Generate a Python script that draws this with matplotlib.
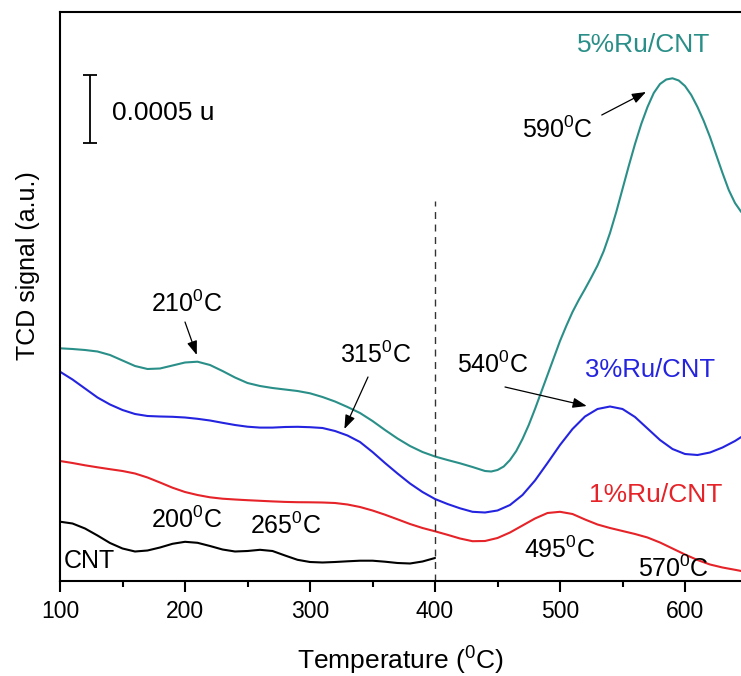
import matplotlib
matplotlib.use('Agg')
import matplotlib.pyplot as plt
from matplotlib.ticker import MultipleLocator

plt.rcParams['font.family'] = ['Liberation Sans', 'DejaVu Sans']
plt.rcParams['mathtext.fontset'] = 'custom'
plt.rcParams['mathtext.rm'] = 'Liberation Sans'
plt.rcParams['mathtext.default'] = 'regular'

# ---- data (signal in arbitrary units) ----
t_5ru = [100, 110, 120, 130, 140, 150, 160, 170, 180, 190, 200, 210, 220, 230, 240,
         250, 260, 270, 280, 290, 300, 310, 320, 330, 340, 350, 360, 370, 380, 390,
         400, 410, 420, 430, 440, 445, 450, 455, 460, 465, 470, 475, 480, 485, 490,
         495, 500, 505, 510, 515, 520, 525, 530, 535, 540, 545, 550, 555, 560, 565,
         570, 575, 580, 585, 590, 595, 600, 605, 610, 615, 620, 625, 630, 635, 640, 645]
s_5ru = [23.27, 23.2, 23.1, 22.95, 22.6, 22.05, 21.5, 21.2, 21.25, 21.55, 21.85, 21.93, 21.6, 21.0, 20.35,
         19.8, 19.5, 19.3, 19.15, 19.0, 18.77, 18.4, 17.95, 17.4, 16.8, 16.0, 15.1, 14.25, 13.5, 12.9,
         12.45, 12.1, 11.77, 11.4, 11.0, 10.95, 11.1, 11.45, 12.1, 13.0, 14.2, 15.6, 17.2, 18.9, 20.6,
         22.3, 24.0, 25.5, 26.9, 28.1, 29.2, 30.35, 31.55, 33.0, 34.8, 36.9, 39.2, 41.5, 43.7, 45.7,
         47.4, 48.8, 49.7, 50.15, 50.27, 50.05, 49.5, 48.6, 47.4, 46.0, 44.4, 42.6, 40.8, 39.1, 37.8, 36.9]

t_3ru = [100, 110, 120, 130, 140, 150, 160, 170, 180, 190, 200, 210, 220, 230, 240,
         250, 260, 270, 280, 290, 300, 310, 320, 330, 340, 350, 360, 370, 380, 390,
         400, 410, 420, 430, 440, 450, 460, 470, 480, 490, 500, 510, 520, 530, 540,
         550, 560, 570, 580, 590, 600, 610, 620, 630, 640, 645]
s_3ru = [20.93, 20.15, 19.25, 18.35, 17.65, 17.1, 16.7, 16.5, 16.45, 16.42, 16.35, 16.22, 16.05, 15.82, 15.6,
         15.43, 15.34, 15.34, 15.4, 15.42, 15.38, 15.3, 15.0, 14.55, 13.9, 12.9, 11.8, 10.75, 9.75, 8.9,
         8.2, 7.7, 7.27, 6.92, 6.85, 7.05, 7.6, 8.6, 10.05, 11.8, 13.6, 15.2, 16.45, 17.2, 17.45,
         17.2, 16.4, 15.25, 14.1, 13.2, 12.7, 12.6, 12.85, 13.35, 14.0, 14.4]

t_1ru = [100, 110, 120, 130, 140, 150, 160, 170, 180, 190, 200, 210, 220, 230, 240,
         250, 260, 270, 280, 290, 300, 310, 320, 330, 340, 350, 360, 370, 380, 390,
         400, 410, 420, 430, 440, 450, 460, 470, 480, 490, 500, 510, 520, 530, 540,
         550, 560, 570, 580, 590, 600, 610, 620, 630, 640, 645]
s_1ru = [12.0, 11.8, 11.57, 11.37, 11.18, 11.0, 10.75, 10.35, 9.85, 9.33, 8.9, 8.6, 8.37, 8.23, 8.15,
         8.08, 8.02, 7.96, 7.91, 7.88, 7.87, 7.85, 7.8, 7.65, 7.4, 7.05, 6.63, 6.17, 5.7, 5.3,
         4.97, 4.62, 4.25, 3.98, 4.0, 4.3, 4.85, 5.55, 6.25, 6.8, 6.92, 6.7, 6.15, 5.65, 5.3,
         5.0, 4.7, 4.35, 3.85, 3.25, 2.65, 2.1, 1.65, 1.35, 1.12, 1.0]

t_cnt = [100, 110, 120, 130, 140, 150, 160, 170, 180, 190, 200, 210, 220, 230, 240,
         250, 260, 270, 280, 290, 300, 310, 320, 330, 340, 350, 360, 370, 380, 390, 400]
s_cnt = [5.93, 5.75, 5.25, 4.55, 3.8, 3.25, 2.95, 3.05, 3.35, 3.72, 3.92, 3.82, 3.5, 3.15, 2.95,
         3.0, 3.12, 3.0, 2.55, 2.12, 1.9, 1.85, 1.9, 1.97, 2.03, 2.03, 1.93, 1.8, 1.75, 1.95, 2.3]

scale_bar = 6.8      # signal span equal to 0.0005 u
divider_t = 400

#=========================================
fig = plt.figure(figsize=(7.41, 6.76), dpi=100)
ax = fig.add_axes([60/741, 95/676, 681/741, 569/676])

line_kw = dict(lw=1.5, solid_joinstyle='round', solid_capstyle='round')
ax.plot(t_5ru, s_5ru, color='#2a8f88', **line_kw)
ax.plot(t_3ru, s_3ru, color='#2424e0', **line_kw)
ax.plot(t_1ru, s_1ru, color='#e52328', **line_kw)
ax.plot(t_cnt, s_cnt, color='black', **line_kw)

ax.plot([divider_t, divider_t], [0, 38.0], color='#333333', lw=1.0, ls=(0, (5, 4)))

# scale bar
ax.errorbar([124], [47.2], yerr=[[scale_bar/2], [scale_bar/2]], color='black',
            lw=1.3, capsize=5, capthick=1.3)
ax.text(141.4, 46.1, '0.0005 u', fontsize=19, ha='left', va='baseline')

ax.set_xlim(100, 644.8)
ax.set_ylim(0, 56.9)

# labels on the curves
fs = 18
ax.text(567.3, 52.9, '5%Ru/CNT', color='#2a8f88', fontsize=19, ha='center', va='baseline')
ax.text(572, 20.4, '3%Ru/CNT', color='#2424e0', fontsize=18.5, ha='center', va='baseline')
ax.text(576.7, 7.9, '1%Ru/CNT', color='#e52328', fontsize=19, ha='center', va='baseline')
ax.text(102.6, 1.27, 'CNT', fontsize=fs, ha='left', va='baseline')
ax.text(201.3, 5.27, '200$^0$C', fontsize=fs, ha='center', va='baseline')
ax.text(280.7, 4.7, '265$^0$C', fontsize=fs, ha='center', va='baseline')
ax.text(500, 2.27, '495$^0$C', fontsize=fs, ha='center', va='baseline')
ax.text(590.6, 0.43, '570$^0$C', fontsize=fs, ha='center', va='baseline')

arrow = dict(arrowstyle='-|>,head_length=0.6,head_width=0.22', color='black',
             lw=0.9, mutation_scale=14, shrinkA=0, shrinkB=0)
ax.text(201.4, 26.9, '210$^0$C', fontsize=fs, ha='center', va='baseline')
ax.annotate('', xy=(209.4, 22.6), xytext=(200, 25.9), arrowprops=arrow)
ax.text(352.8, 21.8, '315$^0$C', fontsize=fs, ha='center', va='baseline')
ax.annotate('', xy=(327.5, 15.2), xytext=(346.4, 20.4), arrowprops=arrow)
ax.text(446, 20.8, '540$^0$C', fontsize=fs, ha='center', va='baseline')
ax.annotate('', xy=(521.4, 17.5), xytext=(456, 19.4), arrowprops=arrow)
ax.text(498, 44.3, '590$^0$C', fontsize=fs, ha='center', va='baseline')
ax.annotate('', xy=(568.8, 48.9), xytext=(533.4, 46.6), arrowprops=arrow)

# axes styling
for side in ['left', 'bottom', 'top']:
    ax.spines[side].set_linewidth(1.5)
ax.spines['right'].set_visible(False)
ax.set_yticks([])
ax.xaxis.set_major_locator(MultipleLocator(100))
ax.xaxis.set_minor_locator(MultipleLocator(50))
ax.tick_params(axis='x', which='major', direction='out', length=8, width=1.5,
               labelsize=16.5, pad=6, top=False)
ax.tick_params(axis='x', which='minor', direction='out', length=4, width=1.5, top=False)

ax.set_xlabel('Temperature ($^0$C)', fontsize=19)
ax.set_ylabel('TCD signal (a.u.)', fontsize=18)
ax.xaxis.set_label_coords(0.5, -0.113)
ax.yaxis.set_label_coords(-0.03, 0.554)

fig.savefig('out.png', dpi=100)
